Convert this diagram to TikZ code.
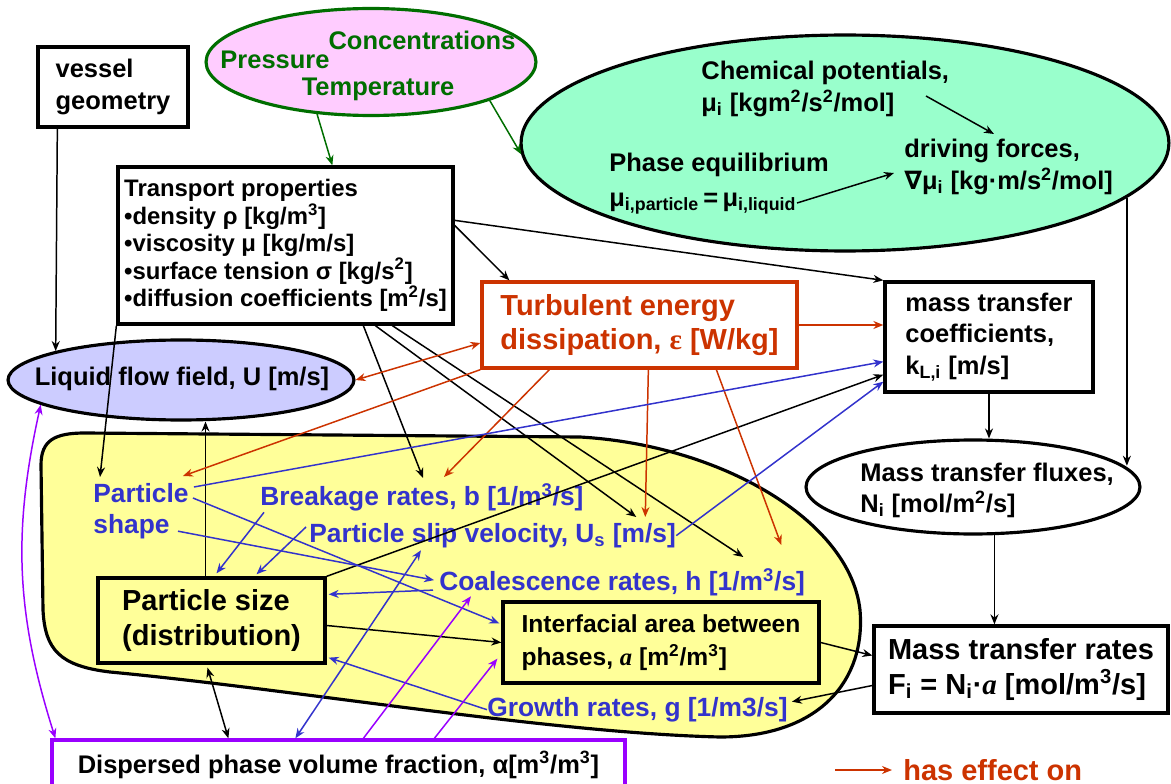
\documentclass[tikz,border=0pt]{standalone}
\usepackage{fontspec}
\setmainfont{Liberation Sans}
\newfontfamily\symfam{DejaVu Sans}
\newfontfamily\serfam{Liberation Serif}
\usetikzlibrary{shapes.geometric, arrows.meta, calc}

\definecolor{effectred}{RGB}{204,51,0}
\definecolor{thermogreen}{RGB}{0,110,0}
\definecolor{rateblue}{RGB}{51,51,204}
\definecolor{fracviolet}{RGB}{153,0,255}
\definecolor{pinkfill}{RGB}{255,204,255}
\definecolor{mintfill}{RGB}{153,255,204}
\definecolor{lavfill}{RGB}{204,204,255}
\definecolor{blobfill}{RGB}{255,255,153}

\begin{document}
\begin{tikzpicture}[
        x=0.02cm, y=-0.02cm,
        every node/.style={font=\fontsize{14.5}{18}\selectfont\bfseries, inner sep=0pt, align=left},
        box/.style={
            rectangle, draw=black, line width=1.9pt, fill=white
        },
        ell/.style={
            ellipse, draw=black, line width=1.8pt, inner sep=0pt
        },
        bigtxt/.style={font=\fontsize{16.5}{19.8}\selectfont\bfseries},
        bluetxt/.style={text=rateblue, anchor=north west, font=\fontsize{15}{17.6}\selectfont\bfseries},
        arr/.style={-{Stealth[length=2mm,width=1.6mm]}, line width=0.85pt},
        arrb/.style={{Stealth[length=2mm,width=1.6mm]}-{Stealth[length=2mm,width=1.6mm]}, line width=0.85pt},
        eff/.style={arr, effectred},
        slipc/.style={arr, rateblue},
        fracc/.style={arr, fracviolet}
    ]
    \useasboundingbox (0,0) rectangle (1171,784);
    \clip (0,0) rectangle (1171,784);

    % particle phase region
    \path[draw=black, line width=1.8pt, fill=blobfill]
        (85,433) -- (580,437) .. controls (720,445) and (850,520) .. (860,610)
        .. controls (866,680) and (820,737) .. (720,737)
        .. controls (550,733) and (300,690) .. (110,672)
        .. controls (60,666) and (45,650) .. (43,610) -- (41,465)
        .. controls (41,440) and (55,433) .. (85,433) -- cycle;

    % inputs
    \node[box, minimum width=3cm, minimum height=1.6cm, font=\fontsize{14.5}{18.7}\selectfont\bfseries] (vessel) at (113,87) {vessel\\geometry};
    \node[ell, draw=thermogreen, fill=pinkfill, minimum width=6.6cm, minimum height=2.14cm] (state) at (371,62) {};
    \node[text=thermogreen] (conc) at (422,40) {Concentrations};
    \node[text=thermogreen] (press) at (275,60) {Pressure};
    \node[text=thermogreen] (temp) at (378,89) {Temperature};

    % thermodynamics
    \node[ell, fill=mintfill, minimum width=12.96cm, minimum height=4.32cm] (thermo) at (845,143) {};
    \node[anchor=north west] (chem) at (701,61) {Chemical potentials,\\μ\textsubscript{i} [kgm\textsuperscript{2}/s\textsuperscript{2}/mol]};
    \node[anchor=north west] (drive) at (904,139) {driving forces,\\{\symfam ∇}μ\textsubscript{i} [kg·m/s\textsuperscript{2}/mol]};
    \node[anchor=north west, font=\fontsize{14.5}{19.8}\selectfont\bfseries] (phase) at (609,153) {Phase equilibrium\\μ\textsubscript{i,particle}\,=\,μ\textsubscript{i,liquid}};

    \node[box, minimum width=6.7cm, minimum height=3.14cm, font=\fontsize{13.6}{15.6}\selectfont\bfseries] (transp) at (285.5,245.5)
        {Transport properties\\•density ρ [kg/m\textsuperscript{3}]\\•viscosity μ [kg/m/s]\\•surface tension σ [kg/s\textsuperscript{2}]\\•diffusion coefficients [m\textsuperscript{2}/s]};
    \node[box, draw=effectred, text=effectred, bigtxt, minimum width=6.3cm, minimum height=1.72cm] (turb) at (639.5,325)
        {Turbulent energy\\dissipation, {\serfam ε} [W/kg]};
    \node[box, minimum width=4.16cm, minimum height=2.2cm] (kcoef) at (989,337)
        {mass transfer\\coefficients,\\k\textsubscript{L,i} [m/s]};

    \node[ell, fill=lavfill, minimum width=6.92cm, minimum height=1.6cm] (flow) at (181,380) {};
    \node (flowtxt) at (182,379) {Liquid flow field, U [m/s]};
    \node[ell, fill=white, minimum width=6.68cm, minimum height=1.88cm] (flux) at (973,487) {};
    \node[anchor=north west, font=\fontsize{14.5}{17.6}\selectfont\bfseries] (fluxtxt) at (860,463) {Mass transfer fluxes,\\N\textsubscript{i} [mol/m\textsuperscript{2}/s]};

    % particle properties
    \node[bluetxt] (shape) at (93,483) {Particle\\shape};
    \node[bluetxt] (brk) at (260,483) {Breakage rates, b [1/m\textsuperscript{3}/s]};
    \node[bluetxt] (slip) at (309,523) {Particle slip velocity, U\textsubscript{s} [m/s]};
    \node[bluetxt] (coal) at (439,568) {Coalescence rates, h [1/m\textsuperscript{3}/s]};
    \node[bluetxt] (growth) at (487,697) {Growth rates, g [1/m3/s]};

    \node[box, fill=blobfill, bigtxt, minimum width=4.54cm, minimum height=1.7cm] (psize) at (211.5,620.5) {Particle size\\(distribution)};
    \node[box, fill=blobfill, font=\fontsize{14}{19}\selectfont\bfseries, minimum width=6.32cm, minimum height=1.62cm] (area) at (661,642.5)
        {Interfacial area between\\phases, {\serfam\itshape a} [m\textsuperscript{2}/m\textsuperscript{3}]};
    \node[box, bigtxt, minimum width=5.88cm, minimum height=1.74cm] (rates) at (1021,669.5)
        {Mass transfer rates\\F\textsubscript{i} = N\textsubscript{i}·{\serfam\itshape a} [mol/m\textsuperscript{3}/s]};
    \node[box, draw=fracviolet, minimum width=11.46cm, minimum height=1cm] (alpha) at (338.5,765)
        {Dispersed phase volume fraction, α[m\textsuperscript{3}/m\textsuperscript{3}]};

    \node[bigtxt, text=effectred, anchor=west] (legend) at (903,770) {has effect on};
    \coordinate (legtail) at (835,770);

    % green
    \draw[arr, thermogreen] (state.-136) -- ($(transp.north west)+(216,0)$);
    \draw[arr, thermogreen] (state.-18) -- (thermo.182);

    % black
    \draw[arr] ($(vessel.south west)+(21,0)$) -- (flow.167);
    \draw[arr] (transp.south west) -- ($(shape.north west)+(7,-6)$);
    \draw[arr] ($(transp.south west)+(247,0)$) -- ($(brk.north west)+(163,-5)$);
    \draw[arr] ($(transp.south west)+(259,0)$) -- ($(slip.north east)+(-40,-6)$);
    \draw[arr] ($(transp.south west)+(276,0)$) -- ($(coal.north east)+(-62,-11)$);
    \draw[arr] ($(transp.north east)+(0,60)$) -- ($(turb.north west)+(29,0)$);
    \draw[arr] ($(transp.north east)+(0,55)$) -- (kcoef.north west);
    \draw[arr] ($(chem.north west)+(225,35)$) -- ($(drive.north west)+(90,-5)$);
    \draw[arr] ($(phase.north west)+(188,50)$) -- ($(drive.north west)+(-10,34)$);
    \draw[arr] (thermo.-11) -- (thermo.-11 |- flux.8);
    \draw[arr] (kcoef.south) -- (kcoef.south |- flux.north);
    \draw[arr] (flux.-66) -- (flux.-66 |- rates.north);
    \draw[arr] (area.east) -- ($(rates.west)+(0,-14)$);
    \draw[arr] ($(rates.west)+(0,16)$) -- ($(growth.east)+(4,-8)$);
    \draw[arr] (psize.north east) -- ($(kcoef.south west)+(0,-19)$);
    \draw[arr] ($(psize.east)+(0,5)$) -- (area.west);
    \draw[arr] (psize.north) ++(-6,0) coordinate (up) -- (up |- flow.south);
    \draw[arrb] ($(psize.south)+(-4,3)$) -- ($(alpha.north west)+(178,0)$);

    % red
    \draw[arrb, effectred] ($(turb.west)+(0,18)$) -- (flow.east);
    \draw[eff] (turb.south west) -- ($(shape.north east)+(-6,-7)$);
    \draw[eff] ($(turb.south west)+(69,0)$) -- ($(brk.north west)+(184,-6)$);
    \draw[eff] ($(turb.south west)+(168,0)$) -- ($(slip.north east)+(-31,-6)$);
    \draw[eff] ($(turb.south west)+(236,0)$) -- ($(coal.north east)+(-24,-23)$);
    \draw[eff] (turb.east) -- (turb.east -| kcoef.west);

    % blue
    \draw[slipc] ($(shape.north east)+(5,4)$) -- ($(kcoef.south west)+(0,-32)$);
    \draw[slipc] ($(shape.north east)+(4,15)$) -- ($(area.north west)+(-2,23)$);
    \draw[slipc] ($(shape.south west)+(85,-8)$) -- ($(coal.west)+(-5,-2)$);
    \draw[slipc] ($(brk.south west)+(4,1)$) -- ($(psize.north)+(5,-3)$);
    \draw[slipc] ($(slip.north west)+(-3,4)$) -- ($(psize.north)+(45,-2)$);
    \draw[slipc] ($(coal.west)+(-6,8)$) -- ($(psize.north east)+(2,18)$);
    \draw[slipc] (growth.west) -- ($(psize.south east)+(2,-7)$);
    \draw[slipc] (slip.east) -- ($(kcoef.south west)+(0,-12)$);
    \draw[arrb, rateblue] ($(alpha.north west)+(245,0)$) -- ($(slip.south west)+(112,2)$);

    % violet
    \draw[arrb, fracviolet] (flow.190) to[bend right=15] ($(alpha.north west)+(5,0)$);
    \draw[fracc] ($(alpha.north west)+(313,0)$) -- ($(coal.south west)+(32,0)$);
    \draw[fracc] ($(alpha.north west)+(384,0)$) -- ($(area.south west)+(-4,-26)$);

    % legend
    \draw[eff] (legtail) -- ($(legend.west)+(-11,0)$);
\end{tikzpicture}
\end{document}
